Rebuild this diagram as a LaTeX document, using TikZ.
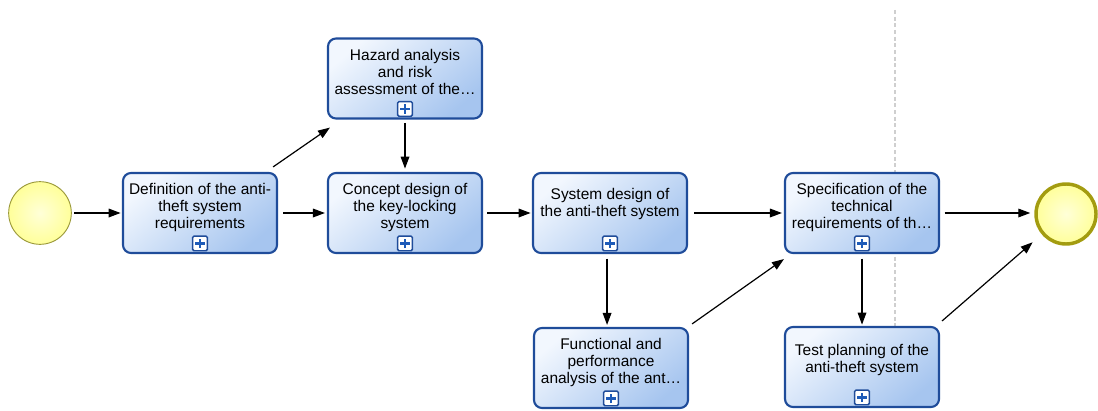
\documentclass[tikz,border=0pt]{standalone}
\usepackage{fontspec}
\setmainfont{Liberation Sans}
\usetikzlibrary{arrows.meta,calc}

\definecolor{taskedge}{HTML}{1F4C9A}
\definecolor{tasklight}{HTML}{F2F7FE}
\definecolor{taskdark}{HTML}{A6C5EF}
\definecolor{pluscol}{HTML}{1E5BB8}
\definecolor{evfill}{HTML}{FFFF9A}
\definecolor{evlight}{HTML}{FFFFD8}
\definecolor{startedge}{HTML}{9C9A3C}
\definecolor{endedge}{HTML}{A39C10}
\definecolor{laneline}{HTML}{CFCFCF}

\tikzset{
  task/.style={draw=taskedge, line width=1.6pt, rounded corners=6pt,
    minimum width=115.5pt, minimum height=60pt, inner sep=0pt,
    top color=tasklight, bottom color=taskdark, shading angle=40},
  tasktext/.style={align=center, inner sep=0pt,
    font=\fontsize{11.6}{12.8}\selectfont},
  subproc/.style={draw=taskedge, line width=1.1pt, fill=white,
    minimum size=11pt, inner sep=0pt, rounded corners=1pt,
    path picture={
      \draw[pluscol, line width=1.7pt]
        ([xshift=-3.5pt]path picture bounding box.center) --
        ([xshift=3.5pt]path picture bounding box.center)
        ([yshift=-3.5pt]path picture bounding box.center) --
        ([yshift=3.5pt]path picture bounding box.center);}},
  startev/.style={circle, draw=startedge, line width=0.7pt,
    minimum size=47pt, inner sep=0pt,
    inner color=evlight, outer color=evfill},
  endev/.style={circle, draw=endedge, line width=2.6pt,
    minimum size=45pt, inner sep=0pt,
    inner color=evlight, outer color=evfill},
  flow/.style={draw=black, line width=0.9pt,
    -{Triangle[length=9pt,width=6.5pt]}},
}

\begin{document}
\begin{tikzpicture}[x=0.75pt,y=-0.75pt]
\useasboundingbox (0,0) rectangle (1098,410);

% lane separator
\coordinate (laneTop) at (895,10);
\coordinate (laneBot) at (895,327);
\draw[laneline, line width=0.8pt, dash pattern=on 3pt off 2pt] (laneTop) -- (laneBot);

% events
\node[startev] (st) at (40,213) {};
\node[endev] (en) at (1066,214) {};

% tasks
\node[task] (t1) at (200,213) {};
\node[task] (hz) at (405,78.5) {};
\node[task] (cd) at (405,213) {};
\node[task] (sd) at (610,213) {};
\node[task] (sp) at (862,213) {};
\node[task] (fn) at (611,368) {};
\node[task] (tp) at (862,367) {};

% task labels
\node[tasktext] (t1l) at ([yshift=-26.5pt]t1.north) {Definition of the anti-\\theft system\\requirements};
\node[tasktext] (hzl) at ([yshift=-26pt]hz.north) {Hazard analysis\\and risk\\assessment of the\dots};
\node[tasktext] (cdl) at ([yshift=-26.5pt]cd.north) {Concept design of\\the key-locking\\system};
\node[tasktext] (sdl) at ([yshift=-24pt]sd.north) {System design of\\the anti-theft system};
\node[tasktext] (spl) at ([yshift=-26.5pt]sp.north) {Specification of the\\technical\\requirements of th\dots};
\node[tasktext] (fnl) at ([yshift=-26.5pt]fn.north) {Functional and\\performance\\analysis of the ant\dots};
\node[tasktext] (tpl) at ([yshift=-25.5pt]tp.north) {Test planning of the\\anti-theft system};

% sub-process markers
\node[subproc] (t1p) at ([yshift=8pt]t1.south) {};
\node[subproc] (hzp) at ([yshift=8pt]hz.south) {};
\node[subproc] (cdp) at ([yshift=8pt]cd.south) {};
\node[subproc] (sdp) at ([yshift=8pt]sd.south) {};
\node[subproc] (spp) at ([yshift=8pt]sp.south) {};
\node[subproc] (fnp) at ([yshift=8pt]fn.south) {};
\node[subproc] (tpp) at ([yshift=8pt]tp.south) {};

% sequence flows
\draw[flow, shorten <=2pt, shorten >=1pt] (st.east) -- (t1.west);
\draw[flow] ([shift={(-5,-5)}]t1.north east) -- ([shift={(3,8)}]hz.south west);
\draw[flow, shorten <=2.5pt, shorten >=2.5pt] (hz.south) -- (cd.north);
\draw[flow, shorten <=4pt, shorten >=1.5pt] (t1.east) -- (cd.west);
\draw[flow, shorten <=3pt, shorten >=1pt] (cd.east) -- (sd.west);
\draw[flow, shorten <=4.5pt, shorten >=1.5pt] (sd.east) -- (sp.west);
\draw[flow, shorten <=3.5pt, shorten >=1.5pt] ([xshift=-2.2pt]sd.south) -- ([xshift=-2.2pt]sd.south |- fn.north);
\draw[flow] ([shift={(3,-3)}]fn.north east) -- ([shift={(0,5)}]sp.south west);
\draw[flow, shorten <=3.5pt, shorten >=3pt] (sp.east) -- (sp.east -| en.west);
\draw[flow, shorten <=3.5pt, shorten >=1pt] (sp.south) -- (tp.north);
\draw[flow, shorten >=9pt] ([shift={(2,-5)}]tp.north east) -- (en.220);
\end{tikzpicture}
\end{document}
